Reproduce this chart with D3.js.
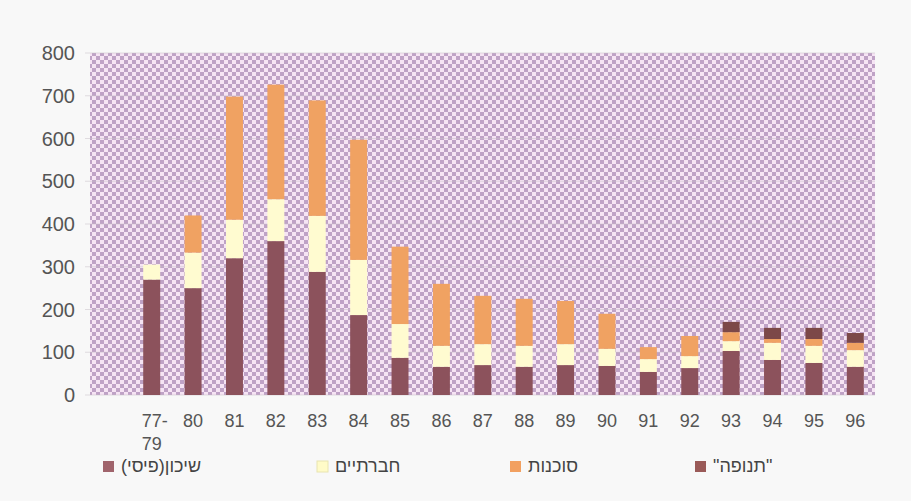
<!DOCTYPE html>
<html><head><meta charset="utf-8">
<script src="https://cdn.jsdelivr.net/npm/d3@7"></script>
<style>body{margin:0;background:#f8f8f8;} svg{display:block;}</style>
</head><body>
<svg id="c" width="911" height="501"></svg>
<script>
const categories = ["77-79","80","81","82","83","84","85","86","87","88","89","90","91","92","93","94","95","96"];
const shikun   = [270,250,320,360,288,187, 87, 66, 70, 66, 70, 68, 54, 63,103, 82, 75, 66];
const chevrati = [ 35, 83, 90, 98,131,129, 79, 49, 49, 49, 49, 40, 30, 28, 23, 40, 40, 39];
const sochnut  = [  0, 87,288,268,270,281,181,145,113,110,101, 82, 28, 47, 21,  9, 16, 17];
const tenufa   = [  0,  0,  0,  0,  0,  0,  0,  0,  0,  0,  0,  0,  0,  0, 24, 26, 26, 23];
const yTicks = [0,100,200,300,400,500,600,700,800];
const seriesNames = ["שיכון(פיסי)","חברתיים","סוכנות","\"תנופה\""];
const seriesColors = ["#8c525c","#fffbd0","#f0a262","#7c4848"];
const legendColors = ["#a0646c","#fffbc8","#f2a060","#9a5a58"];

const svg = d3.select("#c");
const plot = {l:90, r:875, t:53, b:395};
const x = d3.scaleBand().domain(categories).range([131, 876]).paddingInner(0.59).paddingOuter(0.295);
const y = d3.scaleLinear().domain([0,800]).range([plot.b, plot.t]);

const defs = svg.append("defs");
const pat = defs.append("pattern").attr("id","chk").attr("width",8).attr("height",8).attr("patternUnits","userSpaceOnUse");
pat.append("rect").attr("width",8).attr("height",8).attr("fill","#f6e4f4");
pat.append("rect").attr("width",4).attr("height",4).attr("fill","#bfa2c6");
pat.append("rect").attr("x",4).attr("y",4).attr("width",4).attr("height",4).attr("fill","#bfa2c6");

svg.append("rect").attr("x",plot.l).attr("y",plot.t).attr("width",plot.r-plot.l).attr("height",plot.b-plot.t).attr("fill","url(#chk)");

// gridlines
svg.append("g").selectAll("line").data(yTicks).join("line")
  .attr("x1",plot.l-5).attr("x2",plot.r).attr("y1",d=>y(d)).attr("y2",d=>y(d))
  .attr("stroke","#c8c0c8").attr("stroke-width",1).attr("opacity",0.5);

// y labels
svg.append("g").selectAll("text").data(yTicks).join("text")
  .attr("x",75).attr("y",d=>y(d)).attr("dy","0.35em").attr("text-anchor","end")
  .attr("font-family","Liberation Sans, Arial, sans-serif").attr("font-size",20).attr("fill","#555")
  .text(d=>d);

// stacked bars
const rows = categories.map((c,i)=>({cat:c, s0:shikun[i], s1:chevrati[i], s2:sochnut[i], s3:tenufa[i]}));
const stack = d3.stack().keys(["s0","s1","s2","s3"])(rows);
svg.append("g").selectAll("g").data(stack).join("g").attr("fill",(d,i)=>seriesColors[i])
  .selectAll("rect").data(d=>d).join("rect")
  .attr("x",d=>x(d.data.cat)).attr("width",x.bandwidth())
  .attr("y",d=>y(d[1])).attr("height",d=>Math.max(0,y(d[0])-y(d[1])));

// x labels
const xl = svg.append("g").attr("font-family","Liberation Sans, Arial, sans-serif").attr("font-size",18).attr("fill","#555").attr("text-anchor","middle");
categories.forEach(c=>{
  const cx = x(c)+x.bandwidth()/2;
  if (c.includes("-")) {
    const [a,b] = c.split("-");
    xl.append("text").attr("x",cx+3).attr("y",427).text(a+"-");
    xl.append("text").attr("x",cx).attr("y",450).text(b);
  } else {
    xl.append("text").attr("x",cx).attr("y",427).text(c);
  }
});

// legend
const legX = [103,317,510,695];
const lg = svg.append("g");
seriesNames.forEach((n,i)=>{
  lg.append("rect").attr("x",legX[i]).attr("y",461).attr("width",11).attr("height",11).attr("fill",legendColors[i])
    .attr("stroke", i===1 ? "#e8e4b0" : "none");
  lg.append("text").attr("x",legX[i]+18).attr("y",472).attr("direction","rtl").attr("text-anchor","end")
    .attr("font-family","Liberation Sans, Arial, sans-serif").attr("font-size",18).attr("fill","#444").text(n);
});
</script>
</body></html>
